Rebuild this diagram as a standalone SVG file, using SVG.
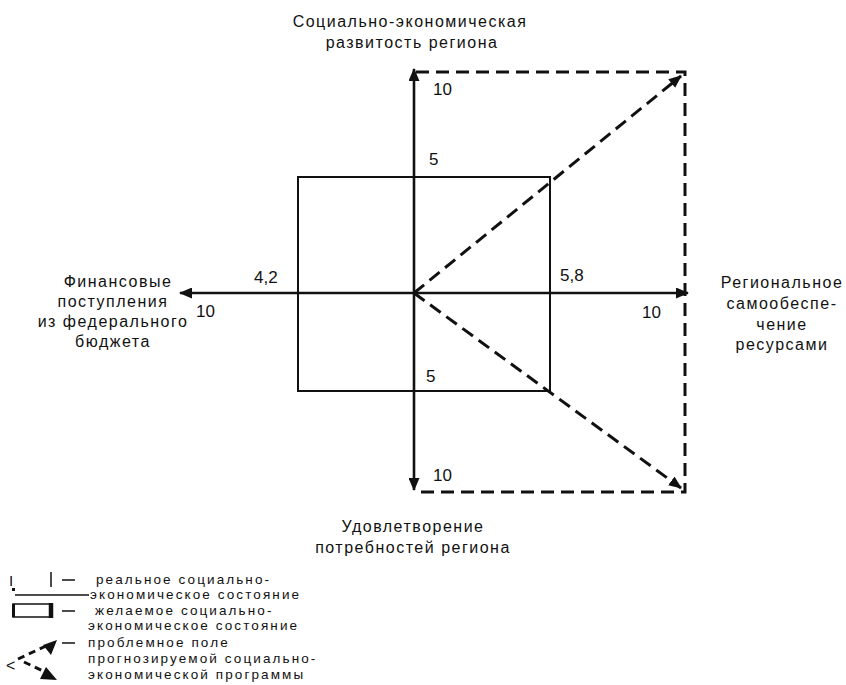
<svg xmlns="http://www.w3.org/2000/svg" width="846" height="685" viewBox="0 0 846 685">
<defs>
<style>
text{font-family:"Liberation Sans",Arial,sans-serif;fill:#111;}
.t{font-size:16px;letter-spacing:1.5px;}
.c{text-anchor:middle;}
.n{font-size:17px;}
.lg{font-size:13.5px;letter-spacing:2.1px;}
.ax{stroke:#111;stroke-width:2.6;fill:none;}
.dash{stroke:#111;stroke-width:3;fill:none;stroke-dasharray:13 7;}
.box{stroke:#111;stroke-width:2;fill:none;}
.ln{stroke:#111;stroke-width:1.5;}
</style>
<marker id="ah" markerUnits="userSpaceOnUse" markerWidth="13" markerHeight="11" refX="12" refY="5.5" orient="auto-start-reverse">
<path d="M0,0 L13,5.5 L0,11 z" fill="#111"/>
</marker>
</defs>
<rect width="846" height="685" fill="#fff"/>

<g id="real-state">
<rect class="box" x="298" y="177" width="252" height="214"/>
</g>

<g id="connectors">
<line class="ax" x1="414" y1="293" x2="414" y2="69" marker-end="url(#ah)"/>
<line class="ax" x1="414" y1="293" x2="414" y2="490" marker-end="url(#ah)"/>
<line class="ax" x1="414" y1="293" x2="180" y2="293" marker-end="url(#ah)"/>
<line class="ax" x1="414" y1="293" x2="688" y2="293" marker-end="url(#ah)"/>
<path class="dash" d="M416,72 H685 V492 H416"/>
<line class="dash" x1="414" y1="293" x2="681" y2="76" marker-end="url(#ah)"/>
<line class="dash" x1="414" y1="293" x2="681" y2="488" marker-end="url(#ah)"/>
</g>

<g id="label-top">
<text class="t c" x="410" y="27">Социально-экономическая</text>
<text class="t c" x="412" y="48">развитость региона</text>
</g>
<g id="label-left">
<text class="t c" x="118" y="287">Финансовые</text>
<text class="t c" x="113" y="307">поступления</text>
<text class="t c" x="113" y="327">из федерального</text>
<text class="t c" x="113" y="347">бюджета</text>
</g>
<g id="label-right">
<text class="t c" x="782" y="288">Региональное</text>
<text class="t c" x="782" y="309">самообеспе-</text>
<text class="t c" x="782" y="330">чение</text>
<text class="t c" x="782" y="350">ресурсами</text>
</g>
<g id="label-bottom">
<text class="t c" x="413" y="532">Удовлетворение</text>
<text class="t c" x="413" y="553">потребностей региона</text>
</g>

<g id="values">
<text class="n" x="433" y="95">10</text>
<text class="n" x="429" y="165">5</text>
<text class="n" x="254" y="283">4,2</text>
<text class="n" x="560" y="281">5,8</text>
<text class="n" x="196" y="317">10</text>
<text class="n" x="642" y="318">10</text>
<text class="n" x="426" y="382">5</text>
<text class="n" x="433" y="481">10</text>
</g>

<g id="legend">
<text x="9" y="586" font-size="15">I</text>
<line class="ln" x1="51" y1="572" x2="51" y2="587"/>
<line class="ln" x1="62" y1="580" x2="75" y2="580"/>
<text class="lg" x="96" y="584">реальное социально-</text>
<rect x="12" y="588" width="3" height="3" fill="#111"/>
<line class="ln" x1="15" y1="595" x2="89" y2="595"/>
<text class="lg" x="90" y="599">экономическое состояние</text>
<rect x="13" y="604" width="39" height="13" fill="none" stroke="#111" stroke-width="1.5"/>
<line x1="13.5" y1="604" x2="13.5" y2="617" stroke="#111" stroke-width="3"/>
<line x1="51" y1="603" x2="51" y2="618" stroke="#111" stroke-width="4.5"/>
<line class="ln" x1="62" y1="611" x2="75" y2="611"/>
<text class="lg" x="95" y="615">желаемое социально-</text>
<text class="lg" x="88" y="630">экономическое состояние</text>
<line x1="18" y1="659" x2="46" y2="646" stroke="#111" stroke-width="3" stroke-dasharray="7 5"/>
<path d="M57,640 L51,655 L43,645 z" fill="#111"/>
<line class="ln" x1="62" y1="643" x2="75" y2="643"/>
<text class="lg" x="88" y="647">проблемное поле</text>
<text x="6" y="671" font-size="16">&lt;</text>
<line x1="24" y1="662" x2="45" y2="672" stroke="#111" stroke-width="3" stroke-dasharray="7 5"/>
<path d="M57,680 L40,679 L46,667 z" fill="#111"/>
<text class="lg" x="88" y="663">прогнозируемой социально-</text>
<text class="lg" x="88" y="679">экономической программы</text>
</g>
</svg>
